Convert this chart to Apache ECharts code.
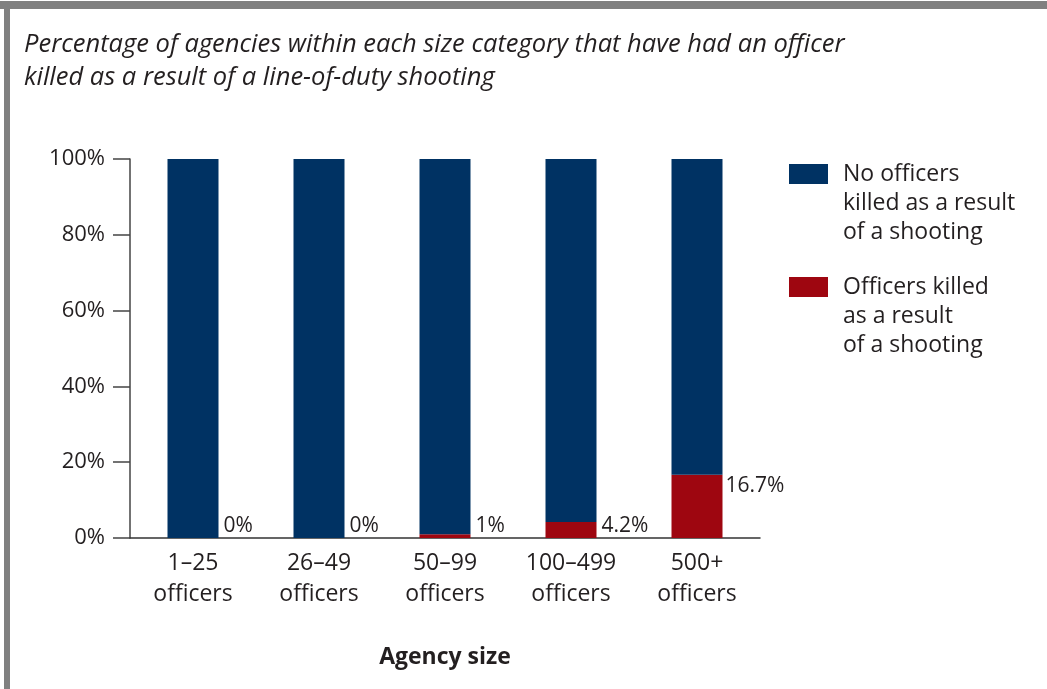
<!DOCTYPE html>
<html>
<head>
<meta charset="utf-8">
<script src="https://cdn.jsdelivr.net/npm/echarts@6/dist/echarts.min.js"></script>
<style>
html,body{margin:0;padding:0;background:#fff;}
#c{width:1047px;height:689px;}
</style>
</head>
<body>
<div id="c"></div>
<script>
const categories = ['1–25\nofficers', '26–49\nofficers', '50–99\nofficers', '100–499\nofficers', '500+\nofficers'];
const noKilled = [100, 100, 99, 95.8, 83.3];
const killed = [0, 0, 1, 4.2, 16.7];
const killedLabels = ['0%', '0%', '1%', '4.2%', '16.7%'];
const yTicks = [0, 20, 40, 60, 80, 100];
const seriesNames = ['No officers\nkilled as a result\nof a shooting', 'Officers killed\nas a result\nof a shooting'];

const FONT = '"Open Sans", "Noto Sans", sans-serif';
const NAVY = '#003263';
const RED = '#9E0610';
const TEXT = '#231f20';

const chart = echarts.init(document.getElementById('c'), null, {renderer: 'canvas'});

const killedData = killed.map((v, i) => {
  const big = v > 10;
  return {
    value: v,
    label: {
      show: true,
      formatter: killedLabels[i],
      position: big ? ['100%', 0] : ['100%', '100%'],
      offset: big ? [3, 11] : [5, -12],
      align: 'left',
      verticalAlign: 'middle'
    }
  };
});

function makeLegend(name, top) {
  return {
    data: [name], left: 789, top: top, padding: 0,
    orient: 'vertical', itemWidth: 39, itemHeight: 20, itemGap: 0, icon: 'rect',
    selectedMode: false,
    formatter: n => '\n\n' + n,
    textStyle: {fontSize: 23, lineHeight: 29, color: TEXT, fontFamily: FONT, padding: [0, 0, 0, 10]}
  };
}

const option = {
  animation: false,
  textStyle: {fontFamily: FONT},
  graphic: [
    {type: 'rect', shape: {x: 0, y: 1, width: 1047, height: 8}, style: {fill: '#808080'}, silent: true},
    {type: 'rect', shape: {x: 4, y: 1, width: 6, height: 688}, style: {fill: '#808080'}, silent: true},
    {
      type: 'text', left: 24, top: 28,
      style: {
        text: 'Percentage of agencies within each size category that have had an officer\nkilled as a result of a line-of-duty shooting',
        font: 'italic 25.5px ' + FONT, fill: TEXT, lineHeight: 33
      }
    }
  ],
  legend: [
    makeLegend(seriesNames[0], 174 - 72.5),
    makeLegend(seriesNames[1], 287 - 72.5)
  ],
  grid: {left: 130, right: 287, top: 159, bottom: 151, containLabel: false},
  xAxis: {
    type: 'category',
    data: categories,
    name: 'Agency size',
    nameLocation: 'middle',
    nameGap: 108,
    nameTextStyle: {fontSize: 23, fontWeight: 'bold', color: TEXT, fontFamily: FONT},
    axisLine: {show: true, lineStyle: {color: '#333', width: 1.5}},
    axisTick: {show: false},
    axisLabel: {fontSize: 23, lineHeight: 31, color: TEXT, margin: 10, fontFamily: FONT, interval: 0}
  },
  yAxis: {
    type: 'value',
    min: 0, max: 100, interval: 20,
    axisLine: {show: true, lineStyle: {color: '#444', width: 1.5}},
    axisTick: {show: true, length: 17, lineStyle: {color: '#444', width: 1.5}},
    splitLine: {show: false},
    axisLabel: {
      fontSize: 22, color: TEXT, margin: 25, fontFamily: FONT,
      formatter: v => yTicks.includes(v) ? v + '%' : ''
    }
  },
  series: [
    {
      name: seriesNames[1], type: 'bar', stack: 'all', barWidth: 51,
      data: killedData,
      itemStyle: {color: RED},
      label: {fontSize: 21, color: TEXT, fontFamily: FONT}
    },
    {
      name: seriesNames[0], type: 'bar', stack: 'all', barWidth: 51,
      data: noKilled,
      itemStyle: {color: NAVY}
    }
  ]
};
chart.setOption(option);
</script>
</body>
</html>
